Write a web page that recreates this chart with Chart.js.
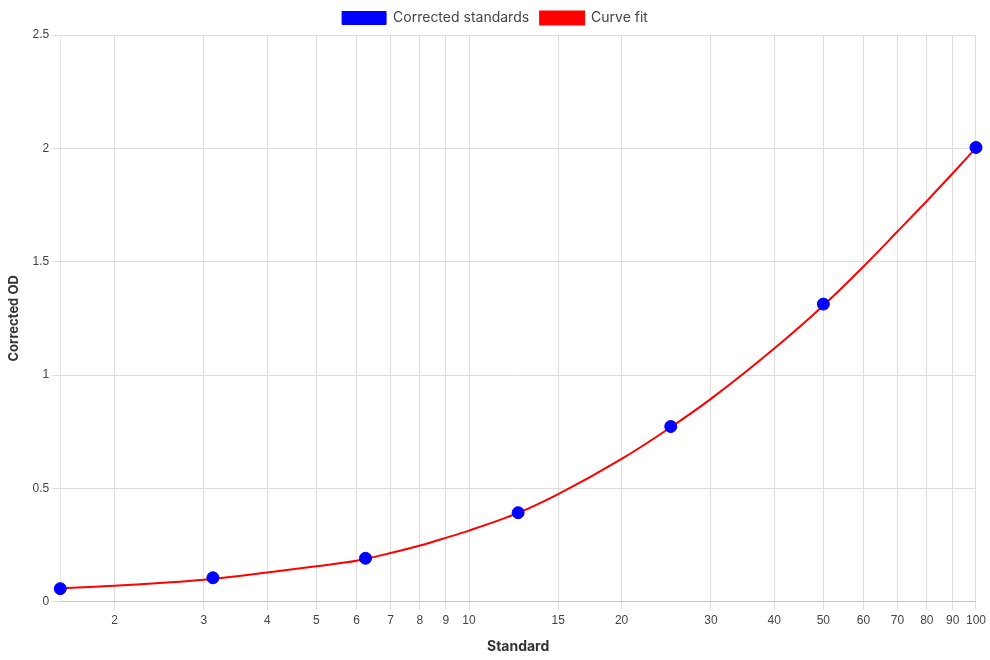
<!DOCTYPE html>
<html>
<head>
<meta charset="utf-8">
<script src="https://cdn.jsdelivr.net/npm/chart.js@4/dist/chart.umd.min.js"></script>
<style>
  html, body { margin: 0; padding: 0; background: #fff; }
  #wrap { width: 990px; height: 660px; }
</style>
</head>
<body>
<div id="wrap"><canvas id="stdChart"></canvas></div>
<script>
// ─── Data ────────────────────────────────────────────────────────────────────
const standards = [1.5625, 3.125, 6.25, 12.5, 25, 50, 100];
const correctedOD = [0.058, 0.106, 0.192, 0.393, 0.773, 1.313, 2.004];

// curve fit
const fitX = [1.5625, 2, 3, 4, 5, 6, 7, 8, 9, 10, 12.5, 15, 20, 25, 30, 40, 50, 60, 70, 80, 90, 100];
const fitY = [0.060, 0.071, 0.097, 0.129, 0.157, 0.181, 0.215, 0.248, 0.282, 0.314, 0.392, 0.475, 0.630, 0.770, 0.895, 1.117, 1.307, 1.479, 1.633, 1.768, 1.890, 2.002];

const titleFont = "Inter, 'Noto Sans', sans-serif";

// ─── Chart ───────────────────────────────────────────────────────────────────
const ctx = document.getElementById('stdChart').getContext('2d');
new Chart(ctx, {
    type: 'scatter',
    data: {
        datasets: [
            {
                label: 'Corrected standards',
                data: standards.map((x, i) => ({ x: x, y: correctedOD[i] })),
                backgroundColor: '#0000ff',
                borderColor: '#0000ff',
                borderWidth: 1,
                pointRadius: 6,
                pointHoverRadius: 6,
                order: 0
            },
            {
                label: 'Curve fit',
                type: 'line',
                data: fitX.map((x, i) => ({ x: x, y: fitY[i] })),
                backgroundColor: '#ff0000',
                borderColor: '#ff0000',
                borderWidth: 2,
                pointRadius: 0,
                cubicInterpolationMode: 'monotone',
                fill: false,
                order: 1
            }
        ]
    },
    options: {
        responsive: true,
        maintainAspectRatio: false,
        animation: false,
        plugins: {
            legend: {
                labels: {
                    boxWidth: 44,
                    boxHeight: 13,
                    padding: 11,
                    color: '#444',
                    font: { family: titleFont, size: 14 }
                }
            },
            tooltip: { enabled: false }
        },
        scales: {
            x: {
                type: 'logarithmic',
                bounds: 'data',
                title: {
                    display: true, text: 'Standard', color: '#333',
                    padding: { top: 6, bottom: 5 },
                    font: { family: titleFont, size: 14, weight: 'bold' }
                },
                ticks: {
                    color: '#444',
                    autoSkip: false,
                    maxRotation: 0,
                    padding: 4,
                    font: { size: 12 },
                    callback: (v) => Number.isInteger(v) ? String(v) : ''
                },
                grid: { color: '#dddddd' }
            },
            y: {
                min: 0,
                max: 2.5,
                title: {
                    display: true, text: 'Corrected OD', color: '#333',
                    padding: { top: 6, bottom: 8 },
                    font: { family: titleFont, size: 13, weight: 'bold' }
                },
                ticks: { stepSize: 0.5, color: '#444', font: { size: 12 }, callback: (v) => String(+v) },
                grid: { color: '#dddddd' }
            }
        }
    }
});
</script>
</body>
</html>
